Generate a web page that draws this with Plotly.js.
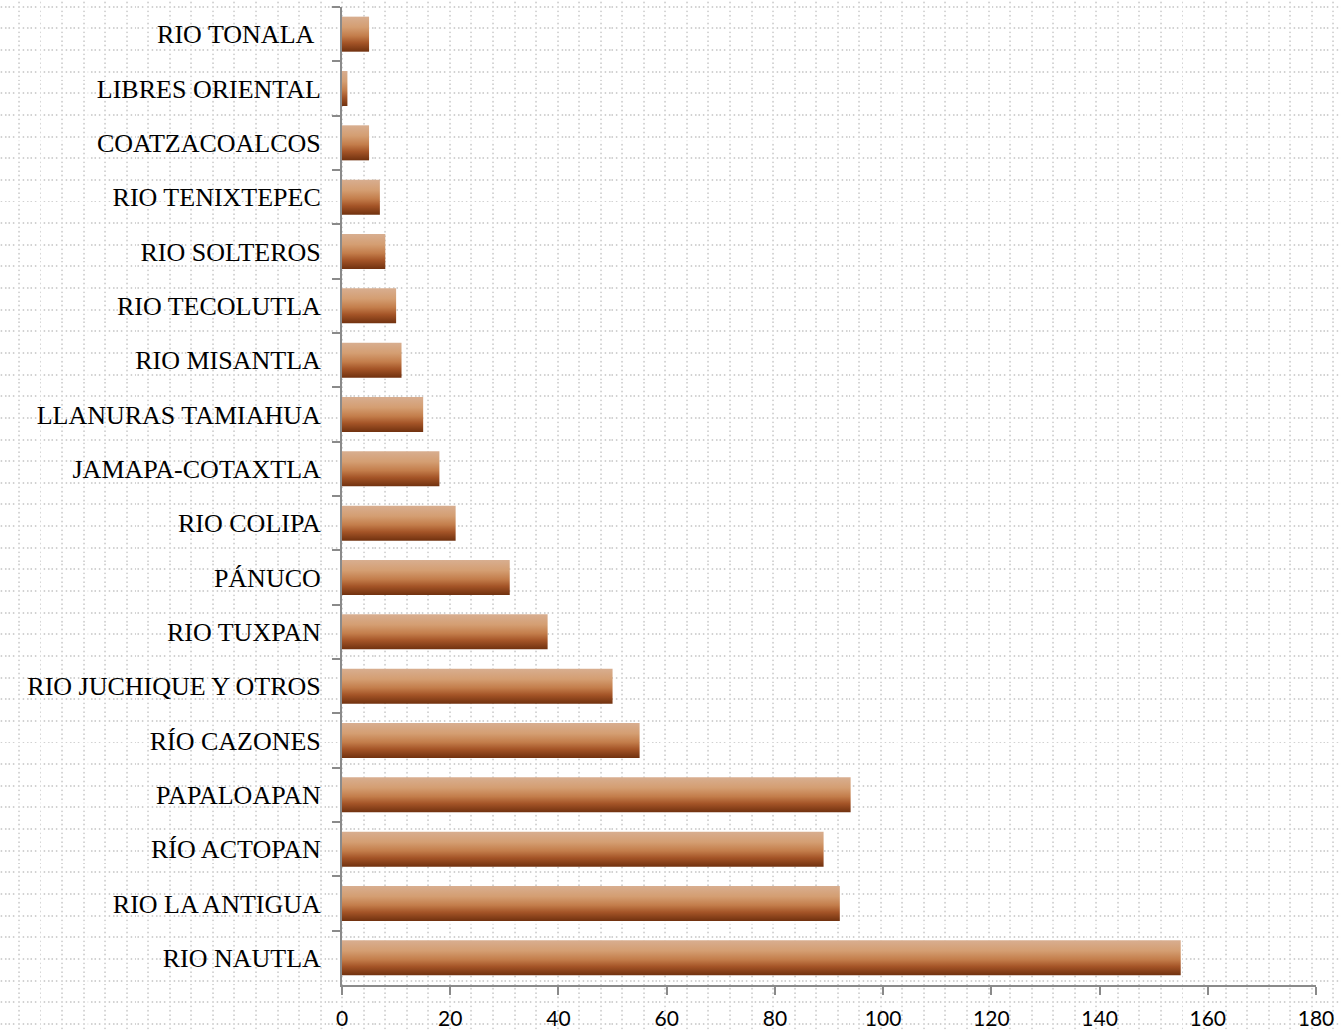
<!DOCTYPE html>
<html>
<head>
<meta charset="utf-8">
<script src="https://cdn.plot.ly/plotly-3.0.1.min.js"></script>
<style>
html, body { margin: 0; padding: 0; }
body {
  width: 1341px; height: 1031px; overflow: hidden;
  background-color: #ffffff;
  background-image: url("data:image/svg+xml;utf8,<svg xmlns='http://www.w3.org/2000/svg' width='21.55' height='21.65' viewBox='0 0 21.55 21.65'><g fill='%23cdcdcd'><circle cx='1.2' cy='10.8' r='0.9'/><circle cx='5.5' cy='10.8' r='0.9'/><circle cx='10.8' cy='10.8' r='0.9'/><circle cx='15.1' cy='10.8' r='0.9'/><circle cx='19.4' cy='10.8' r='0.9'/><circle cx='10.8' cy='2.1' r='0.9'/><circle cx='10.8' cy='6.4' r='0.9'/><circle cx='10.8' cy='15.1' r='0.9'/><circle cx='10.8' cy='19.4' r='0.9'/></g></svg>");
  background-size: 21.55px 21.65px;
  background-position: 8.2px -4.1px;
}
#chart { width: 1341px; height: 1031px; }
</style>
</head>
<body>
<div id="chart"></div>
<script>
const categories = [
  'RIO TONALA\u00a0', 'LIBRES ORIENTAL', 'COATZACOALCOS', 'RIO TENIXTEPEC',
  'RIO SOLTEROS', 'RIO TECOLUTLA', 'RIO MISANTLA', 'LLANURAS TAMIAHUA',
  'JAMAPA-COTAXTLA', 'RIO COLIPA', 'PÁNUCO', 'RIO TUXPAN',
  'RIO JUCHIQUE Y OTROS', 'RÍO CAZONES', 'PAPALOAPAN', 'RÍO ACTOPAN',
  'RIO LA ANTIGUA', 'RIO NAUTLA'
];
const values = [5, 1, 5, 7, 8, 10, 11, 15, 18, 21, 31, 38, 50, 55, 94, 89, 92, 155];
const xTicks = [0, 20, 40, 60, 80, 100, 120, 140, 160, 180];

const axisColor = '#8a8a8a';

const trace = {
  type: 'bar',
  orientation: 'h',
  y: categories,
  x: values,
  marker: { color: '#b56a3a', line: { width: 0 } },
  hoverinfo: 'none'
};

const layout = {
  width: 1341,
  height: 1031,
  margin: { l: 342, r: 25, t: 7, b: 46, pad: 0 },
  paper_bgcolor: 'rgba(0,0,0,0)',
  plot_bgcolor: 'rgba(0,0,0,0)',
  bargap: 0.355,
  showlegend: false,
  font: { family: 'Liberation Serif, serif', color: '#000000' },
  xaxis: {
    range: [0, 180],
    tickvals: xTicks,
    ticktext: xTicks.map(String),
    showgrid: false,
    zeroline: false,
    showline: true,
    linecolor: axisColor,
    linewidth: 2,
    ticks: 'outside',
    ticklen: 8,
    tickwidth: 2,
    tickcolor: axisColor,
    ticklabelstandoff: 6,
    tickfont: { family: 'Lato, sans-serif', size: 21, color: '#000000' },
    fixedrange: true,
    automargin: false
  },
  yaxis: {
    type: 'category',
    autorange: 'reversed',
    showgrid: false,
    zeroline: false,
    showline: true,
    linecolor: axisColor,
    linewidth: 2,
    ticks: 'outside',
    tickson: 'boundaries',
    ticklen: 8,
    tickwidth: 2,
    tickcolor: axisColor,
    ticklabelstandoff: 14,
    tickfont: { family: 'Liberation Serif, serif', size: 26, color: '#000000' },
    fixedrange: true,
    automargin: false
  }
};

function applyGradient() {
  const gd = document.getElementById('chart');
  const svg = gd.querySelector('svg.main-svg');
  if (!svg) return;
  if (!svg.querySelector('#barGrad')) {
    const ns = 'http://www.w3.org/2000/svg';
    let defs = svg.querySelector('defs');
    if (!defs) { defs = document.createElementNS(ns, 'defs'); svg.insertBefore(defs, svg.firstChild); }
    const g = document.createElementNS(ns, 'linearGradient');
    g.setAttribute('id', 'barGrad');
    g.setAttribute('x1', '0'); g.setAttribute('y1', '0');
    g.setAttribute('x2', '0'); g.setAttribute('y2', '1');
    const stops = [
      [0, '#d8ae90'], [0.3, '#d49e72'], [0.55, '#c37d4b'], [0.75, '#a45427'], [1, '#70310f']
    ];
    stops.forEach(([o, c]) => {
      const s = document.createElementNS(ns, 'stop');
      s.setAttribute('offset', o);
      s.setAttribute('stop-color', c);
      g.appendChild(s);
    });
    defs.appendChild(g);
  }
  gd.querySelectorAll('.bars .point path').forEach(p => {
    p.style.fill = 'url(#barGrad)';
    p.style.fillOpacity = 1;
  });
}

Plotly.newPlot('chart', [trace], layout, { displayModeBar: false, staticPlot: true }).then(gd => {
  applyGradient();
  gd.on('plotly_afterplot', applyGradient);
});
</script>
</body>
</html>
